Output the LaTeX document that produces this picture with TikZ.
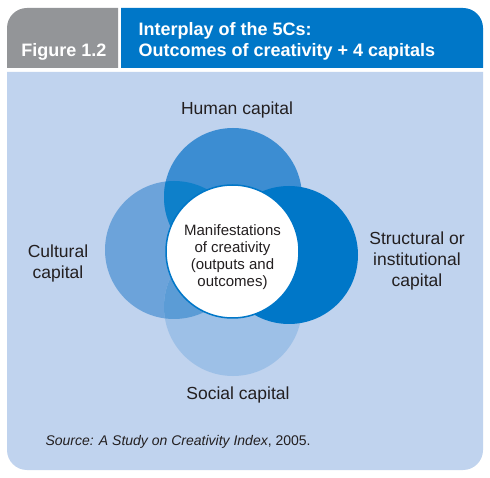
\documentclass[tikz,border=0pt]{standalone}
\usepackage{fontspec}
\setmainfont{Liberation Sans}
\usepackage{tikz}
\usetikzlibrary{positioning}
\definecolor{figGray}{RGB}{147,149,152}
\definecolor{figBlue}{RGB}{0,119,200}
\definecolor{figPanel}{RGB}{192,211,238}
\definecolor{figHuman}{RGB}{60,141,210}
\definecolor{figCultural}{RGB}{108,163,218}
\definecolor{figSocial}{RGB}{157,192,231}
\definecolor{figHumCul}{RGB}{14,128,202}
\definecolor{figSocCul}{RGB}{91,156,214}
\definecolor{figText}{RGB}{35,31,32}

\begin{document}
\begin{tikzpicture}[x=1pt,y=1pt,
  circ/.style={circle,inner sep=0pt,minimum size=138pt},
  capital/.style={align=center,text=figText,font=\fontsize{17.5}{21}\selectfont},
  head/.style={anchor=base west,text=white,font=\fontsize{18}{21}\selectfont\bfseries}
]
  \useasboundingbox[fill=white] (0,0) rectangle (490,477);
  % header tabs and panel
  \fill[figGray] (7,409) -- (7,449) arc[start angle=180,end angle=90,radius=20] -- (118,469) -- (118,409) -- cycle;
  \fill[figBlue] (121,409) -- (121,469) -- (463,469) arc[start angle=90,end angle=0,radius=20] -- (483,409) -- cycle;
  \fill[figPanel] (7,405) -- (7,27) arc[start angle=180,end angle=270,radius=20] -- (463,7) arc[start angle=270,end angle=360,radius=20] -- (483,405) -- cycle;
  \node[head,anchor=base] (fig) at (64,420) {Figure 1.2};
  \node[head] (title1) at (135,441) {Interplay of the 5Cs:};
  \node[head] (title2) at (135,420) {Outcomes of creativity + 4 capitals};
  % the four capitals
  \node[circ,fill=figCultural] (cultural) at (174,227) {};
  \node[circ,fill=figHuman] (human) at (233,280) {};
  \begin{scope}
    \clip (cultural.center) circle (69);
    \fill[figHumCul] (human.center) circle (69);
  \end{scope}
  \node[circ,fill=figSocial] (social) at (233,170) {};
  \begin{scope}
    \clip (cultural.center) circle (69);
    \fill[figSocCul] (social.center) circle (69);
  \end{scope}
  \node[circ,fill=figBlue] (struct) at (289,222) {};
  \node[circle,inner sep=0pt,minimum size=133pt,fill=white,draw=figBlue,line width=1.5pt] (out) at (232.5,225.5) {};
  \node[align=center,text=figText,font=\fontsize{15}{17}\selectfont] (outtxt) at (232.5,220)
    {Manifestations\\of creativity\\(outputs and\\outcomes)};
  % labels
  \node[capital,anchor=base] (humanlbl) at (237,362) {Human capital};
  \node[capital,anchor=base] (sociallbl) at (238,78) {Social capital};
  \node[capital] (culturallbl) at (58,214) {Cultural\\capital};
  \node[capital] (structlbl) at (417,216) {Structural or\\institutional\\capital};
  \node[anchor=base west,text=figText,font=\fontsize{14}{16}\selectfont] (src) at (42,32)
    {\textit{Source: A Study on Creativity Index}, 2005.};
\end{tikzpicture}
\end{document}
